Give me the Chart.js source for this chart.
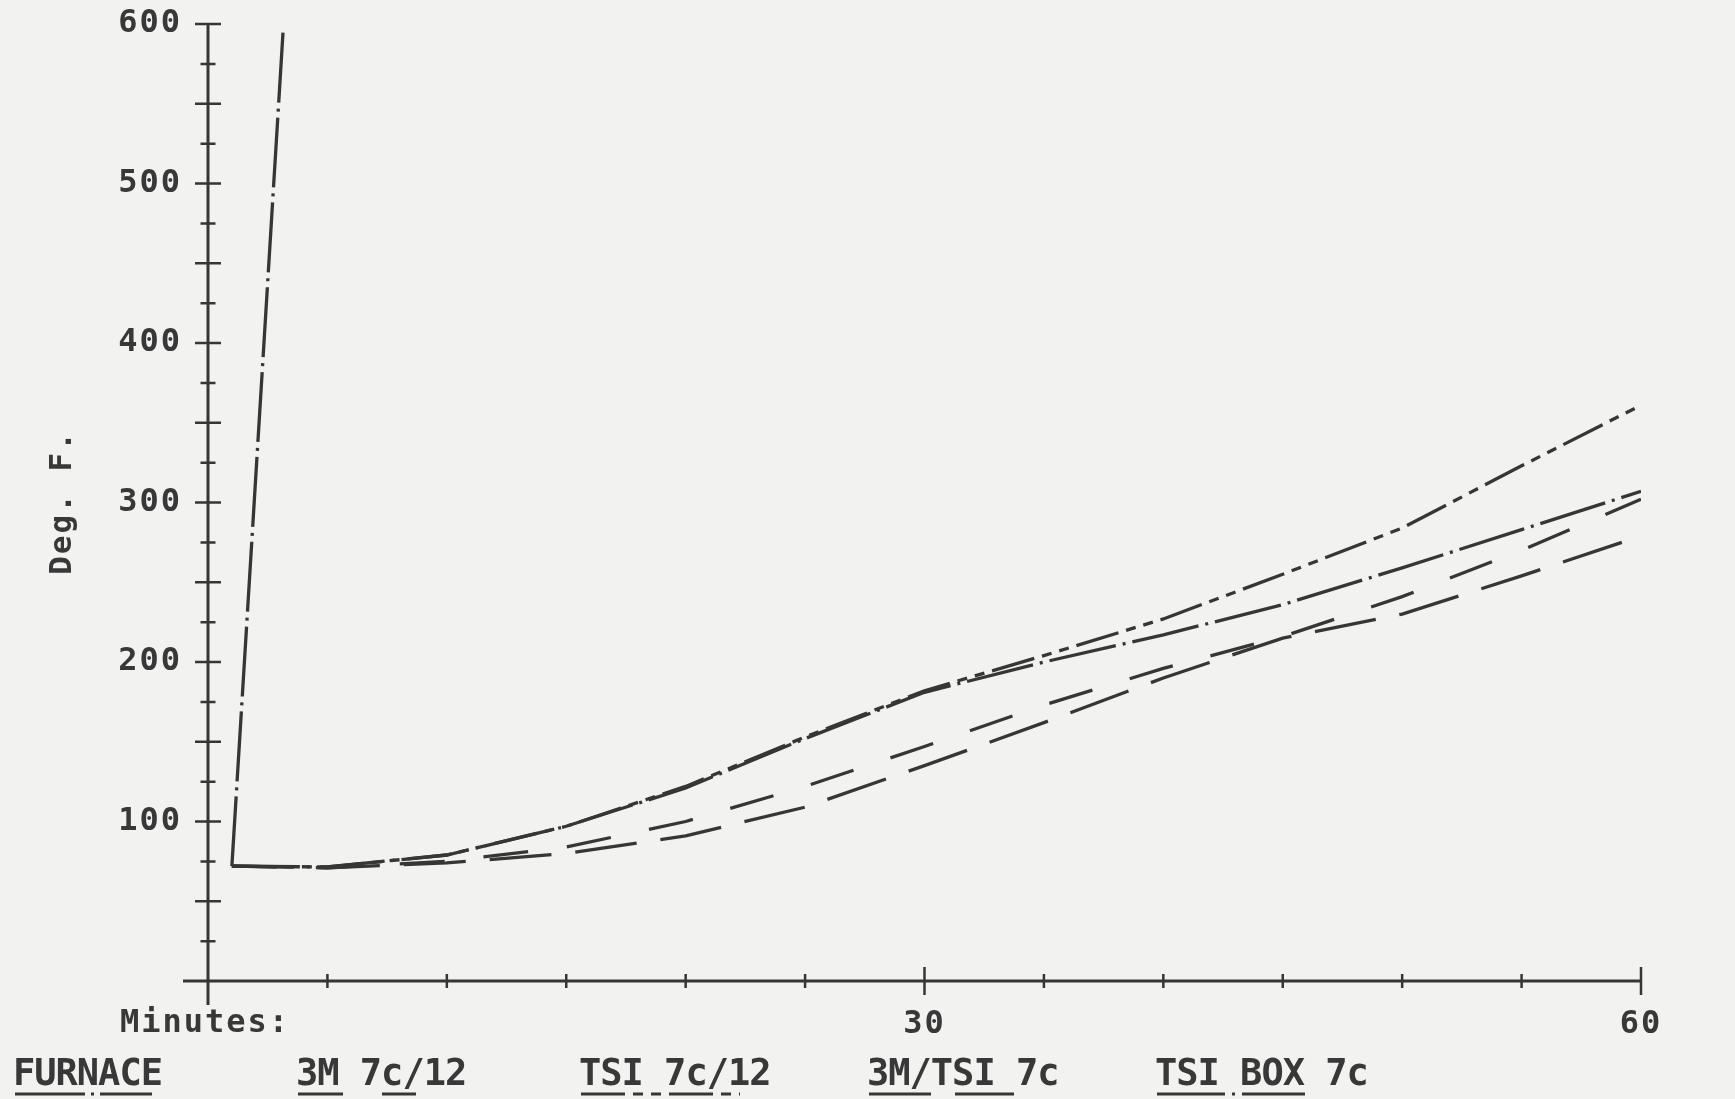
<!DOCTYPE html>
<html>
<head>
<meta charset="utf-8">
<script src="https://cdn.jsdelivr.net/npm/chart.js@4.4.1/dist/chart.umd.min.js"></script>
<style>
  html, body { margin: 0; padding: 0; background: #f2f2f0; }
  #wrap { width: 1735px; height: 1099px; position: relative; }
  canvas { display: block; }
</style>
</head>
<body>
<div id="wrap"><canvas id="c" width="1735" height="1099"></canvas></div>
<script>
// ---------------- data ----------------
const minutes      = [1, 5, 10, 15, 20, 25, 30, 35, 40, 45, 50, 55, 60];
const furnaceMin   = [1, 3.15];
const furnace      = [72, 597];
const m3_7c12      = [72, 71, 75, 84, 100, 122, 147, 173, 196, 216, 241, 270, 302];
const tsi_7c12     = [72, 71.5, 79, 97, 122, 153, 182, 204, 227, 255, 284, 323, 361];
const m3tsi_7c     = [72, 71, 74, 80, 91, 109, 135, 162, 190, 215, 230, 254, 279];
const tsiBox_7c    = [72, 71.5, 79, 97, 121, 152, 181, 200, 217, 236, 259, 283, 307];
const seriesLabels = ['FURNACE', '3M 7c/12', 'TSI 7c/12', '3M/TSI 7c', 'TSI BOX 7c'];
const yTickLabels  = [100, 200, 300, 400, 500, 600];
const xTickLabels  = [30, 60];
const xAxisLabel   = 'Minutes:';
const yAxisLabel   = 'Deg. F.';

// ---------------- styles ----------------
const BG = '#f2f2f0';
const INK = '#363636';
const TEXT = '#383838';
const FONT = '"DejaVu Sans Mono", "Liberation Mono", monospace';
const dashes = {
  furnace: [70, 6, 3, 6],
  dashShort: [45, 39],
  dashDotDot: [44, 8, 10, 8, 10, 8],
  dashLong: [62, 24],
  dashDot: [68, 7, 3, 7]
};
const LEGEND_X = [13, 296, 579, 867, 1155];
const UNDERLINE_LEN = [137, 118, 159, 145, 148];

const pts = (xs, ys) => xs.map((m, i) => ({ x: m, y: ys[i] }));

const bgPlugin = {
  id: 'bg',
  beforeDraw(chart) {
    const { ctx, width, height } = chart;
    ctx.save();
    ctx.fillStyle = BG;
    ctx.fillRect(0, 0, width, height);
    ctx.restore();
    try { ctx.letterSpacing = '2px'; } catch (e) {}
  }
};

const axesPlugin = {
  id: 'plotterAxes',
  afterDraw(chart) {
    const { ctx } = chart;
    const x = chart.scales.x, y = chart.scales.y;
    const x0 = x.getPixelForValue(0), xEnd = x.getPixelForValue(60);
    const y0 = y.getPixelForValue(0), yTop = y.getPixelForValue(600);
    ctx.save();
    ctx.setLineDash([]);
    ctx.strokeStyle = INK;
    ctx.lineWidth = 3;
    ctx.beginPath();
    ctx.moveTo(x0, yTop - 1); ctx.lineTo(x0, y0 + 24);
    ctx.moveTo(x0 - 25, y0); ctx.lineTo(xEnd, y0);
    ctx.stroke();
    ctx.lineWidth = 2.5;
    ctx.beginPath();
    y.ticks.forEach(t => {
      if (t.value === 0) return;
      const py = y.getPixelForValue(t.value);
      const half = (t.value % 50 === 0) ? 13 : 7.5;
      ctx.moveTo(x0 - half, py); ctx.lineTo(x0 + half, py);
    });
    x.ticks.forEach(t => {
      if (t.value === 0) return;
      const px = x.getPixelForValue(t.value);
      const half = (t.value % 30 === 0) ? 14 : 7;
      ctx.moveTo(px, y0 - half); ctx.lineTo(px, y0 + half);
    });
    ctx.stroke();
    // x axis caption
    try { ctx.letterSpacing = '2px'; } catch (e) {}
    ctx.font = 'bold 32px ' + FONT;
    ctx.fillStyle = TEXT;
    ctx.textAlign = 'left';
    ctx.textBaseline = 'middle';
    ctx.fillText(xAxisLabel, 120, 1024);
    ctx.restore();
  }
};

const legendPlugin = {
  id: 'plotterLegend',
  afterDraw(chart) {
    const { ctx } = chart;
    ctx.save();
    try { ctx.letterSpacing = '-1px'; } catch (e) {}
    ctx.font = 'bold 37px ' + FONT;
    ctx.fillStyle = TEXT;
    ctx.textAlign = 'left';
    ctx.textBaseline = 'middle';
    chart.data.datasets.forEach((ds, i) => {
      const lx = LEGEND_X[i];
      ctx.fillText(ds.label, lx, 1075);
      ctx.strokeStyle = INK;
      ctx.lineWidth = 3;
      ctx.setLineDash(ds.borderDash || []);
      ctx.beginPath();
      ctx.moveTo(lx + 2, 1094);
      ctx.lineTo(lx + 2 + UNDERLINE_LEN[i], 1094);
      ctx.stroke();
    });
    ctx.restore();
  }
};

const tickFont = { family: FONT, size: 32, weight: 'bold' };

new Chart(document.getElementById('c').getContext('2d'), {
  type: 'line',
  data: {
    datasets: [
      { label: seriesLabels[0], data: pts(furnaceMin, furnace), borderDash: dashes.furnace },
      { label: seriesLabels[1], data: pts(minutes, m3_7c12), borderDash: dashes.dashShort },
      { label: seriesLabels[2], data: pts(minutes, tsi_7c12), borderDash: dashes.dashDotDot },
      { label: seriesLabels[3], data: pts(minutes, m3tsi_7c), borderDash: dashes.dashLong },
      { label: seriesLabels[4], data: pts(minutes, tsiBox_7c), borderDash: dashes.dashDot }
    ]
  },
  options: {
    responsive: false,
    animation: false,
    devicePixelRatio: 1,
    layout: { padding: { top: 24, right: 94, left: 0, bottom: 0 } },
    plugins: { legend: { display: false }, tooltip: { enabled: false } },
    elements: {
      point: { radius: 0 },
      line: { borderWidth: 3.3, borderColor: INK, tension: 0, fill: false, borderCapStyle: 'butt' }
    },
    scales: {
      x: {
        type: 'linear', min: 0, max: 60,
        ticks: {
          stepSize: 5, autoSkip: false, maxRotation: 0, minRotation: 0,
          font: tickFont, color: TEXT, padding: 24,
          callback: v => xTickLabels.includes(v) ? String(v) : ''
        },
        grid: { display: false, drawTicks: false },
        border: { display: false },
        afterFit(s) { s.height = 118; s.paddingLeft = 0; s.paddingRight = 0; }
      },
      y: {
        min: 0, max: 600,
        ticks: {
          stepSize: 25, autoSkip: false,
          font: tickFont, color: TEXT, padding: 26,
          callback: v => yTickLabels.includes(v) ? String(v) : ''
        },
        grid: { display: false, drawTicks: false },
        border: { display: false },
        title: {
          display: true, text: yAxisLabel, color: TEXT,
          font: { family: FONT, size: 31, weight: 'bold' },
          padding: { top: 44, bottom: 0 }
        },
        afterFit(s) { s.width = 208; s.paddingTop = 0; s.paddingBottom = 0; }
      }
    }
  },
  plugins: [bgPlugin, axesPlugin, legendPlugin]
});
</script>
</body>
</html>
